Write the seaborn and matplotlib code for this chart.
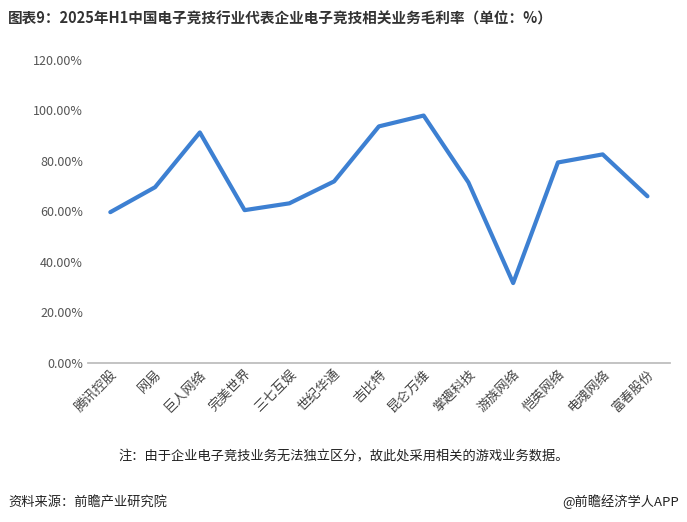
import matplotlib
matplotlib.use("Agg")
import matplotlib.pyplot as plt
import seaborn as sns
import pandas as pd

companies = ["腾讯控股","网易","巨人网络","完美世界","三七互娱","世纪华通","吉比特","昆仑万维","掌趣科技","游族网络","恺英网络","电魂网络","富春股份"]
margins = [59.7, 69.6, 91.3, 60.5, 63.2, 71.9, 93.7, 98.0, 71.5, 31.6, 79.4, 82.6, 66.0]
yticks = [0, 20, 40, 60, 80, 100, 120]

sns.set_theme(style="white")
plt.rcParams['font.family'] = ['Noto Sans CJK SC', 'DejaVu Sans']

df = pd.DataFrame({"company": companies, "margin": margins})
fig = plt.figure(figsize=(6.87, 5.22), dpi=100)
ax = fig.add_axes([0.128, 0.305, 0.847, 0.58])
sns.lineplot(data=df, x="company", y="margin", ax=ax, color="#3d80d2", linewidth=3, sort=False)
ax.set_ylim(0, 120)
ax.set_yticks(yticks)
ax.set_yticklabels([f"{v:.2f}%" for v in yticks], fontsize=9, color="#555555")
ax.set_xlim(-0.5, len(companies) - 0.5)
ax.set_xticks(range(len(companies)))
ax.set_xticklabels(companies, rotation=45, ha="right", rotation_mode="anchor", fontsize=9.5, color="#444444")
ax.set_xlabel("")
ax.set_ylabel("")
for s in ["top", "right", "left"]:
    ax.spines[s].set_visible(False)
ax.spines["bottom"].set_color("#bbbbbb")
ax.tick_params(axis="both", length=0)

fig.text(0.012, 0.965, "图表9：2025年H1中国电子竞技行业代表企业电子竞技相关业务毛利率（单位：%）", fontsize=10.5, fontweight="bold", color="#333333", va="center")
fig.text(0.5, 0.125, "注：由于企业电子竞技业务无法独立区分，故此处采用相关的游戏业务数据。", fontsize=9.5, color="#222222", ha="center", va="center")
fig.text(0.012, 0.038, "资料来源：前瞻产业研究院", fontsize=9.5, color="#222222", va="center")
fig.text(0.988, 0.038, "@前瞻经济学人APP", fontsize=9.5, color="#222222", va="center", ha="right")
fig.savefig("out.png", dpi=100)
